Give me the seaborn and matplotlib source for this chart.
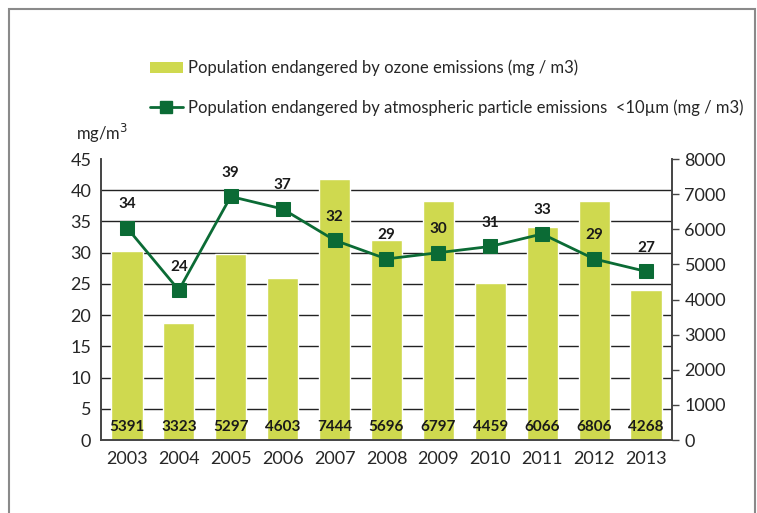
import numpy as np
import pandas as pd
import matplotlib
matplotlib.use("Agg")
import matplotlib.pyplot as plt
import seaborn as sns
from matplotlib.patches import Rectangle, Patch
from matplotlib.lines import Line2D

# dados
years = ['2003', '2004', '2005', '2006', '2007', '2008', '2009', '2010', '2011', '2012', '2013']
ozone = [5391, 3323, 5297, 4603, 7444, 5696, 6797, 4459, 6066, 6806, 4268]
particles = [34, 24, 39, 37, 32, 29, 30, 31, 33, 29, 27]
legend_labels = ['Population endangered by ozone emissions (mg / m3)',
                 'Population endangered by atmospheric particle emissions  <10\u00b5m (mg / m3)']

bar_color = '#cfd94f'
line_color = '#0b6b35'

sns.set_style('white')
plt.rcParams['font.family'] = ['Lato', 'DejaVu Sans']

fig = plt.figure(figsize=(7.57, 5.13), dpi=100)
ax = fig.add_axes([0.1334, 0.1423, 0.7543, 0.5477])

# moldura cinza
fig.patches.append(Rectangle((9 / 757, -0.05), 746 / 757, 1.05 - 9 / 513, transform=fig.transFigure,
                             fill=False, edgecolor='#8a8a8a', linewidth=1.5))

# barras (eixo da direita)
df = pd.DataFrame({'year': years, 'ozone': ozone, 'particles': particles})
sns.barplot(data=df, x='year', y='ozone', ax=ax, color=bar_color, saturation=1, width=0.6, zorder=2)
ax.set_ylim(0, 8000)
ax.set_xlabel('')
ax.set_ylabel('')

# linha (eixo da esquerda)
ax_l = ax.twinx()
sns.lineplot(x=np.arange(len(years)), y=particles, ax=ax_l, color=line_color, linewidth=2,
             marker='s', markersize=9.5, markeredgecolor=line_color, zorder=4)
ax_l.set_ylim(0, 45)
ax_l.set_yticks(np.arange(0, 46, 5))
ax_l.yaxis.tick_left()
ax_l.tick_params(axis='y', length=0, labelsize=13, pad=7)
ax_l.set_ylabel('')
ax_l.set_xlim(-0.5, 10.5)
ax.set_xlim(-0.5, 10.5)

# eixo da direita com as barras
ax.yaxis.tick_right()
ax.set_yticks(np.arange(0, 8001, 1000))
ax.tick_params(axis='y', which='major', direction='out', length=5, width=1, color='#444444',
               labelsize=13, pad=4)
ax.tick_params(axis='x', length=0, labelsize=13, pad=8)
# linhas de grade alinhadas com o eixo da esquerda (0-45)
ax.set_yticks(np.arange(0, 46, 5) * 8000 / 45, minor=True)
ax.tick_params(axis='y', which='minor', length=0)
ax.grid(True, which='minor', axis='y', color='#222222', linewidth=1, zorder=0)
ax.set_axisbelow(True)

for i, v in enumerate(ozone):
    ax.text(i, 380, str(v), ha='center', va='center', fontsize=11, fontweight='bold', color='#1a1a1a', zorder=5)

for i, v in enumerate(particles):
    ax_l.annotate(str(v), (i, v), xytext=(0, 17), textcoords='offset points', ha='center', va='center',
                  fontsize=11, fontweight='bold', color='#1a1a1a')

for a in (ax, ax_l):
    for s in a.spines.values():
        s.set_color('#444444')
        s.set_linewidth(1.2)
    a.spines['top'].set_visible(False)

# legenda
handles = [Patch(facecolor=bar_color, edgecolor='none'),
           Line2D([0], [0], color=line_color, linewidth=2, marker='s', markersize=8)]
fig.legend(handles, legend_labels, loc='center left', bbox_to_anchor=(143 / 757, 1 - 88 / 513),
           frameon=False, fontsize=12, handlelength=2.0, handletextpad=0.3, labelspacing=1.4,
           borderaxespad=0)

fig.text(102 / 757, 1 - 133 / 513, 'mg/m$^3$', ha='center', va='center', fontsize=12)

fig.savefig('out.png', dpi=100)
